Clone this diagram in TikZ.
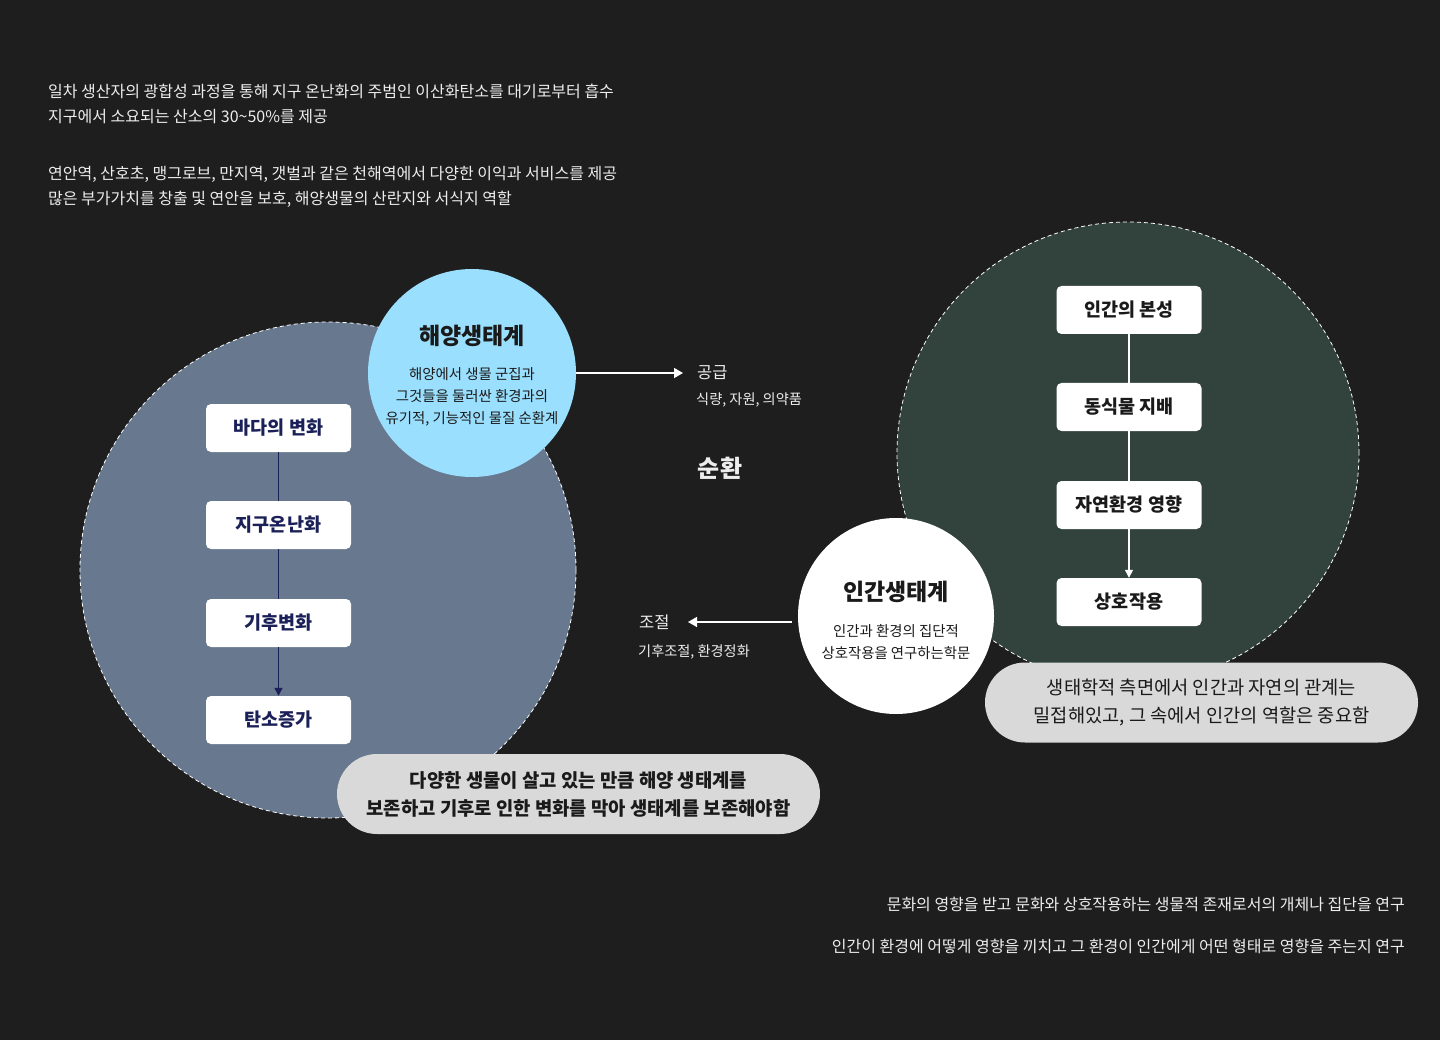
\documentclass[tikz,border=0pt]{standalone}
\usepackage{fontspec}
\setmainfont{Noto Sans CJK KR}
\usetikzlibrary{arrows.meta}

\definecolor{bg}{HTML}{1E1E1E}
\definecolor{slate}{HTML}{68788E}
\definecolor{sky}{HTML}{9ADFFD}
\definecolor{forest}{HTML}{32433E}
\definecolor{pillgray}{HTML}{D9D9D9}
\definecolor{navy}{HTML}{1B2158}
\definecolor{fg}{HTML}{EDEDED}
\definecolor{ink}{HTML}{1A1A1A}

\tikzset{
  bigring/.style={circle, inner sep=0, draw=white, line width=0.8pt, dash pattern=on 4pt off 3pt},
  flowbox/.style={fill=white, rounded corners=5pt, minimum width=145pt, minimum height=48pt,
    inner sep=0, font=\bfseries\fontsize{18.5}{22}\selectfont},
  pill/.style={fill=pillgray, rounded corners=40pt, minimum height=80pt, inner sep=0,
    align=center, text=ink},
  note/.style={text=fg, inner sep=0, font=\fontsize{16}{25}\selectfont},
  small/.style={inner sep=0, align=center, font=\fontsize{14.4}{22}\selectfont},
  head/.style={inner sep=0, font=\bfseries\fontsize{23}{27}\selectfont},
  arr/.style={white, line width=1.5pt, -{Triangle[length=9pt,width=10pt]}},
}

\begin{document}
\begin{tikzpicture}[x=1pt,y=-1pt]
  \fill[bg] (0,0) rectangle (1440,1040);
  \useasboundingbox (0,0) rectangle (1440,1040);

  \node[note, anchor=west, align=left] (intro1) at (48,104)
    {일차 생산자의 광합성 과정을 통해 지구 온난화의 주범인 이산화탄소를 대기로부터 흡수\\지구에서 소요되는 산소의 30\textasciitilde50\%를 제공};
  \node[note, anchor=west, align=left] (intro2) at (48,187)
    {연안역, 산호초, 맹그로브, 만지역, 갯벌과 같은 천해역에서 다양한 이익과 서비스를 제공\\많은 부가가치를 창출 및 연안을 보호, 해양생물의 산란지와 서식지 역할};

  \node[bigring, fill=slate, minimum size=496pt] (seaeco) at (328,570) {};
  \node[bigring, fill=forest, minimum size=462pt] (humaneco) at (1128,453) {};

  \node[flowbox, text=navy] (sea)     at (278.5,428) {바다의 변화};
  \node[flowbox, text=navy] (warm)    at (278.5,525) {지구온난화};
  \node[flowbox, text=navy] (climate) at (278.5,623) {기후변화};
  \node[flowbox, text=navy] (carbon)  at (278.5,720) {탄소증가};
  \draw[navy, line width=1.5pt] (sea) -- (warm) (warm) -- (climate);
  \draw[navy, line width=1.5pt, -{Triangle[length=8pt,width=8pt]}] (climate) -- (carbon);

  \node[flowbox, text=ink] (nature) at (1129,310) {인간의 본성};
  \node[flowbox, text=ink] (rule)   at (1129,407) {동식물 지배};
  \node[flowbox, text=ink] (env)    at (1129,505) {자연환경 영향};
  \node[flowbox, text=ink] (inter)  at (1129,602) {상호작용};
  \draw[white, line width=1.5pt] (nature) -- (rule) (rule) -- (env);
  \draw[white, line width=1.5pt, -{Triangle[length=8pt,width=8pt]}] (env) -- (inter);

  \node[circle, fill=sky, minimum size=208pt, inner sep=0] (ocean) at (472,373) {};
  \node[head, text=ink] (oceantitle) at (472,336) {해양생태계};
  \node[small, text=ink] (oceantext) at (472,397)
    {해양에서 생물 군집과\\그것들을 둘러싼 환경과의\\유기적, 기능적인 물질 순환계};

  \node[circle, fill=white, minimum size=196pt, inner sep=0] (human) at (896,616) {};
  \node[head, text=ink] (humantitle) at (896,592) {인간생태계};
  \node[small, text=ink] (humantext) at (896,642)
    {인간과 환경의 집단적\\상호작용을 연구하는학문};

  \coordinate (supplyend) at (683,373);
  \node[note, anchor=west, font=\fontsize{16.5}{20}\selectfont] (supply) at (697,373) {공급};
  \node[note, anchor=west, font=\fontsize{14.2}{17}\selectfont] (supplytext) at (696,400) {식량, 자원, 의약품};
  \draw[arr] (ocean) -- (supplyend);

  \node[note, font=\bfseries\fontsize{24}{28}\selectfont] (cycle) at (720,468) {순환};

  \coordinate (regend) at (688,622);
  \node[note, anchor=west, font=\fontsize{16.5}{20}\selectfont] (reg) at (639,622) {조절};
  \node[note, anchor=west, font=\fontsize{14.2}{17}\selectfont] (regtext) at (638,652) {기후조절, 환경정화};
  \draw[arr] (human.west |- regend) ++(-6,0) -- (regend);

  \node[pill, minimum width=483pt, font=\bfseries\fontsize{18.8}{28}\selectfont] (keep) at (578.5,794)
    {다양한 생물이 살고 있는 만큼 해양 생태계를\\보존하고 기후로 인한 변화를 막아 생태계를 보존해야함};
  \node[pill, minimum width=433pt, font=\fontsize{18.7}{28}\selectfont] (role) at (1201.5,702.5)
    {생태학적 측면에서 인간과 자연의 관계는\\밀접해있고, 그 속에서 인간의 역할은 중요함};

  \node[note, anchor=east, align=right, font=\fontsize{16}{42}\selectfont] (outro) at (1405,925)
    {문화의 영향을 받고 문화와 상호작용하는 생물적 존재로서의 개체나 집단을 연구\\인간이 환경에 어떻게 영향을 끼치고 그 환경이 인간에게 어떤 형태로 영향을 주는지 연구};
\end{tikzpicture}
\end{document}
